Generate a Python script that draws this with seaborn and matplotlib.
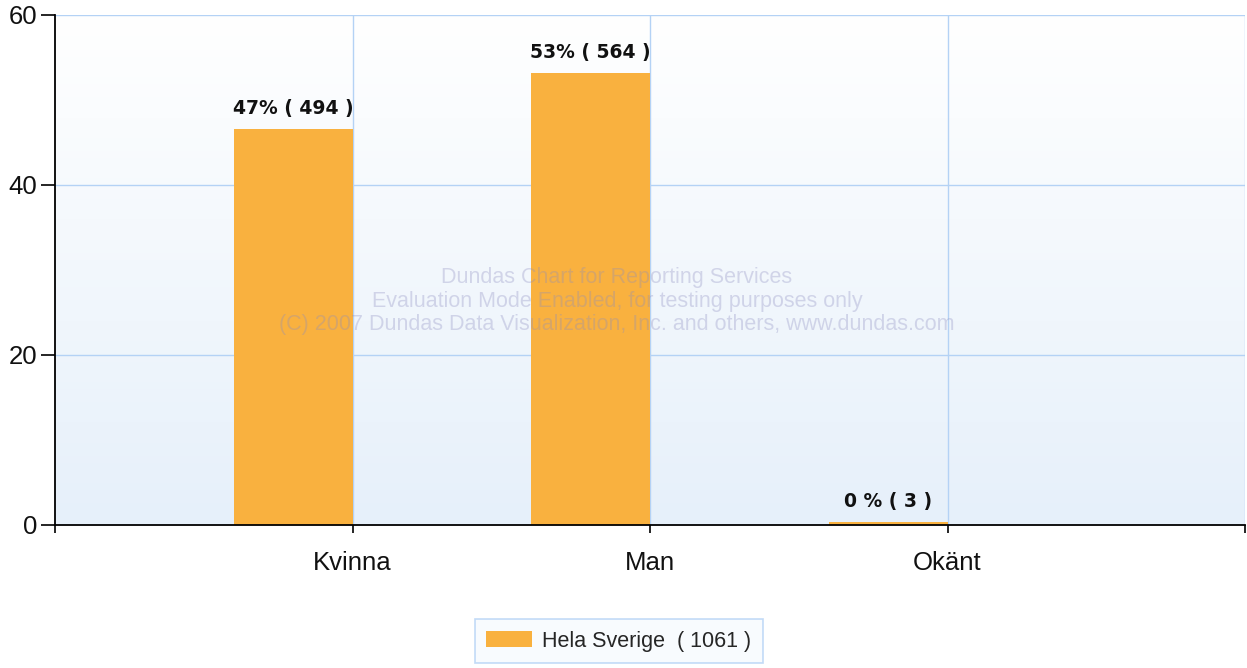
import numpy as np
import pandas as pd
import matplotlib
matplotlib.use('Agg')
import matplotlib.pyplot as plt
import seaborn as sns
from matplotlib.patches import Patch

kategorier = ["Kvinna", "Man", "Okänt"]
andel = [46.6, 53.2, 0.3]
etiketter = ["47% ( 494 )", "53% ( 564 )", "0 % ( 3 )"]
serie = "Hela Sverige  ( 1061 )"
y_ticks = [0, 20, 40, 60]

sns.set_style("white")
plt.rcParams['font.family'] = ['Liberation Sans', 'DejaVu Sans']

df = pd.DataFrame({"Kategori": kategorier, "Andel": andel, "Serie": "Hela Sverige"})

fig = plt.figure(figsize=(12.47, 6.68), dpi=100)
ax = fig.add_axes([55/1247, 143/668, 1190/1247, 510/668])

# gradient bakgrund
grad = np.linspace(0, 1, 256).reshape(-1, 1)
top = np.array([1.0, 1.0, 1.0])
bot = np.array([0xE6, 0xF0, 0xFA]) / 255
img = top + (bot - top) * grad[:, :, None]
ax.imshow(img, extent=[0, 1, 0, 1], transform=ax.transAxes, aspect='auto', zorder=0)

sns.barplot(data=df, x="Kategori", y="Andel", hue="Serie",
            hue_order=["Hela Sverige", "_tom"], order=kategorier,
            palette={"Hela Sverige": "#F9B13F", "_tom": "#ffffff"},
            width=0.8, dodge=True, legend=False, ax=ax, zorder=3,
            saturation=1, edgecolor="none")

for bar, txt in zip(ax.patches, etiketter):
    ax.annotate(txt, (bar.get_x() + bar.get_width() / 2, bar.get_height()),
                xytext=(0, 8), textcoords='offset points', ha='center', va='bottom',
                fontsize=13.5, fontweight='bold', family='DejaVu Sans', color='#111111', zorder=5)

ax.set_xlim(-1, 3)
ax.set_ylim(0, 60)
ax.set_xticks([-1, 0, 1, 2, 3])
ax.set_xticklabels([""] + kategorier + [""], fontsize=18.5, color='#111111')
ax.set_yticks(y_ticks)
ax.set_yticklabels([str(t) for t in y_ticks], fontsize=18.5, color='#111111')
ax.tick_params(axis='x', direction='out', length=6, width=1.2, color='black',
               bottom=True, pad=13)
ax.tick_params(axis='y', direction='out', length=10, width=1.2, color='black',
               left=True, pad=3)
ax.set_xlabel("")
ax.set_ylabel("")

gc = '#B4D2F5'
for x in [0, 1, 2, 3]:
    ax.axvline(x, color=gc, lw=1, zorder=1)
for y in [20, 40, 60]:
    ax.axhline(y, color=gc, lw=1, zorder=1)

for s in ['top', 'right']:
    ax.spines[s].set_visible(False)
for s in ['left', 'bottom']:
    ax.spines[s].set_color('black')
    ax.spines[s].set_linewidth(1.3)
    ax.spines[s].set_zorder(6)

fig.text(617/1247, (668-301)/668,
         "Dundas Chart for Reporting Services\n"
         "Evaluation Mode Enabled, for testing purposes only\n"
         "(C) 2007 Dundas Data Visualization, Inc. and others, www.dundas.com",
         ha='center', va='center', multialignment='center', fontsize=15.5,
         color='#8C8CC0', alpha=0.32, linespacing=1.15, zorder=10)

leg = fig.legend(handles=[Patch(facecolor="#F9B13F", edgecolor="none", label=serie)],
                 loc='center', bbox_to_anchor=(619/1247, (668-641)/668),
                 fontsize=15.5, frameon=True, fancybox=False,
                 handlelength=2.1, handleheight=0.8, borderpad=0.55,
                 borderaxespad=0, handletextpad=0.5)
leg.get_frame().set_edgecolor(gc)
leg.get_frame().set_facecolor('#F7FAFE')
leg.get_frame().set_linewidth(1.2)

fig.savefig("out.png", dpi=100)
